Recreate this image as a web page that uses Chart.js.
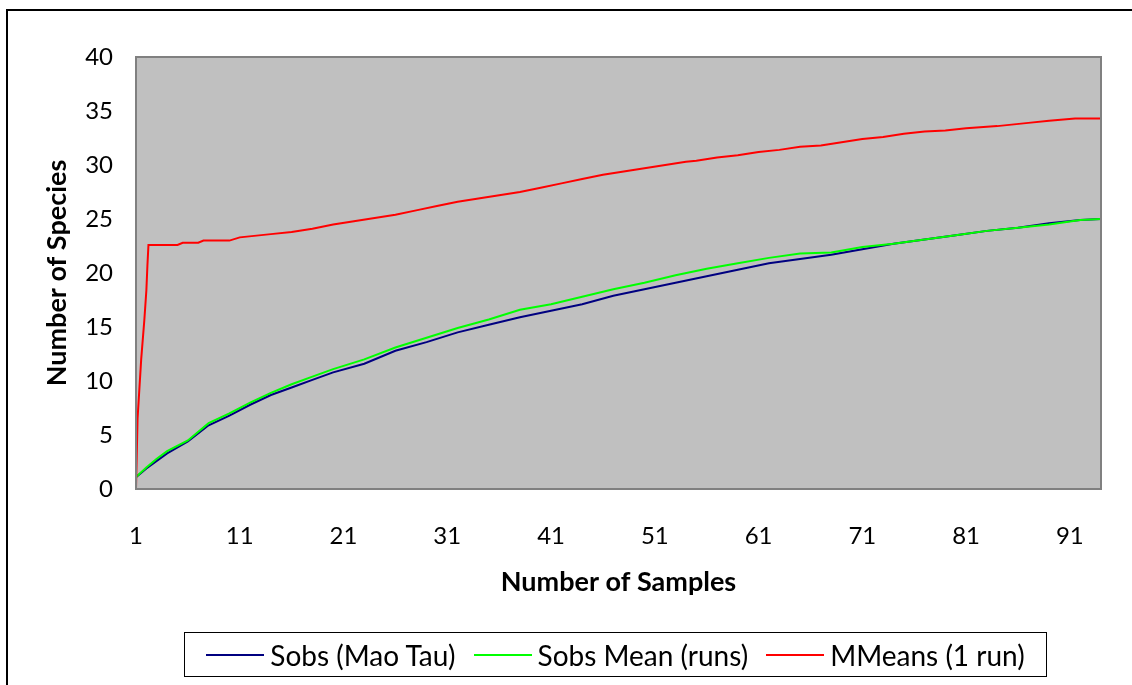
<!DOCTYPE html>
<html>
<head>
<meta charset="utf-8">
<script src="https://cdn.jsdelivr.net/npm/chart.js@4.4.1/dist/chart.umd.min.js"></script>
<style>
  html, body { margin: 0; padding: 0; background: #fff; }
  body { width: 1132px; height: 685px; position: relative; overflow: hidden; font-family: Lato, sans-serif; }
  #frame { position: absolute; left: 6px; top: 9px; width: 1200px; height: 800px; border-left: 2px solid #000; border-top: 2px solid #000; }
  #chart { position: absolute; left: 0; top: 0; }
  #legend { position: absolute; left: 184px; top: 632px; width: 861px; height: 43px; border: 1px solid #000;
            display: flex; align-items: center; justify-content: center; gap: 18px; font-size: 28px; color: #000; }
  .item { display: flex; align-items: center; }
  .swatch { display: inline-block; width: 58px; height: 2px; margin-right: 6px; }
</style>
</head>
<body>
<div id="frame"></div>
<canvas id="chart" width="1132" height="685"></canvas>
<div id="legend"></div>
<script>
// sample numbers the curves were read at
const obsSamples = [1, 2, 3, 4, 6, 8, 10, 12, 14, 16, 18, 20, 23, 26, 29, 32, 35, 38, 41, 44, 47, 50, 53, 56, 59, 62, 65, 68, 71, 74, 77, 80, 83, 86, 89, 92, 94];
const sobsMaoTau = [1.1, 1.9, 2.6, 3.3, 4.4, 5.9, 6.8, 7.8, 8.7, 9.4, 10.1, 10.8, 11.6, 12.8, 13.6, 14.5, 15.2, 15.9, 16.5, 17.1, 17.9, 18.5, 19.1, 19.7, 20.3, 20.9, 21.3, 21.7, 22.2, 22.7, 23.1, 23.5, 23.9, 24.2, 24.6, 24.9, 25.0];
const sobsMean = [1.1, 2.0, 2.8, 3.5, 4.5, 6.1, 7.0, 8.0, 8.9, 9.7, 10.4, 11.1, 12.0, 13.1, 14.0, 14.9, 15.7, 16.6, 17.1, 17.8, 18.5, 19.1, 19.8, 20.4, 20.9, 21.4, 21.8, 21.9, 22.4, 22.7, 23.1, 23.5, 23.9, 24.2, 24.5, 24.9, 25.0];

const mmSamples = [1, 1.15, 1.5, 1.8, 2.0, 2.1, 2.2, 5, 5.5, 7, 7.5, 10, 11, 14, 16, 18, 20, 22, 24, 26, 28, 30, 32, 34, 36, 38, 40, 42, 44, 46, 48, 50, 52, 54, 55, 57, 59, 61, 63, 65, 67, 69, 71, 73, 75, 77, 79, 81, 84, 87, 89, 91.5, 94];
const mmMeans = [0, 6.5, 12.0, 15.6, 18.4, 20.7, 22.6, 22.6, 22.8, 22.8, 23.0, 23.0, 23.3, 23.6, 23.8, 24.1, 24.5, 24.8, 25.1, 25.4, 25.8, 26.2, 26.6, 26.9, 27.2, 27.5, 27.9, 28.3, 28.7, 29.1, 29.4, 29.7, 30.0, 30.3, 30.4, 30.7, 30.9, 31.2, 31.4, 31.7, 31.8, 32.1, 32.4, 32.6, 32.9, 33.1, 33.2, 33.4, 33.6, 33.9, 34.1, 34.3, 34.3];

const xTickValues = [1, 11, 21, 31, 41, 51, 61, 71, 81, 91];
const seriesNames = ["Sobs (Mao Tau)", "Sobs Mean (runs)", "MMeans (1 run)"];
const seriesColors = ["#000080", "#00FF00", "#FF0000"];

function pts(xs, ys) {
  return xs.map((x, i) => ({ x: x, y: ys[i] }));
}

const plotBg = {
  id: "plotBg",
  beforeDraw(chart) {
    const a = chart.chartArea, ctx = chart.ctx;
    ctx.save();
    ctx.fillStyle = "#C0C0C0";
    ctx.fillRect(a.left, a.top, a.right - a.left, a.bottom - a.top);
    ctx.restore();
  },
  afterDraw(chart) {
    const a = chart.chartArea, ctx = chart.ctx;
    ctx.save();
    ctx.strokeStyle = "#808080";
    ctx.lineWidth = 2;
    ctx.strokeRect(a.left, a.top, a.right - a.left, a.bottom - a.top);
    ctx.restore();
  }
};

const tickFont = { family: "Lato", size: 24 };
const titleFont = { family: "Lato", size: 27, weight: "bold" };

new Chart(document.getElementById("chart"), {
  type: "line",
  data: {
    datasets: [
      { label: seriesNames[0], data: pts(obsSamples, sobsMaoTau), borderColor: seriesColors[0], order: 3 },
      { label: seriesNames[1], data: pts(obsSamples, sobsMean), borderColor: seriesColors[1], order: 2 },
      { label: seriesNames[2], data: pts(mmSamples, mmMeans), borderColor: seriesColors[2], order: 1 }
    ].map(d => Object.assign(d, { borderWidth: 2, pointRadius: 0, tension: 0, fill: false }))
  },
  options: {
    responsive: false,
    animation: false,
    devicePixelRatio: 1,
    layout: { padding: { left: 0, top: 57, right: 31, bottom: 0 } },
    plugins: { legend: { display: false }, tooltip: { enabled: false } },
    scales: {
      x: {
        type: "linear",
        min: 1,
        max: 94,
        grid: { display: false },
        border: { display: false },
        afterBuildTicks: s => { s.ticks = xTickValues.map(v => ({ value: v })); },
        afterFit: s => { s.height = 196; },
        ticks: { color: "#000", font: tickFont, padding: 25, maxRotation: 0, autoSkip: false },
        title: { display: true, text: "Number of Samples", color: "#000", font: titleFont, padding: { top: 0, bottom: 87 } }
      },
      y: {
        min: 0,
        max: 40,
        grid: { display: false },
        border: { display: false },
        afterFit: s => { s.width = 136; },
        ticks: { stepSize: 5, color: "#000", font: tickFont, padding: 15 },
        title: { display: true, text: "Number of Species", color: "#000", font: titleFont, padding: { top: 41, bottom: 0 } }
      }
    }
  },
  plugins: [plotBg]
});

const legend = document.getElementById("legend");
legend.innerHTML = seriesNames.map((n, i) =>
  `<span class="item"><span class="swatch" style="background:${seriesColors[i]}"></span>${n}</span>`
).join("");
</script>
</body>
</html>
